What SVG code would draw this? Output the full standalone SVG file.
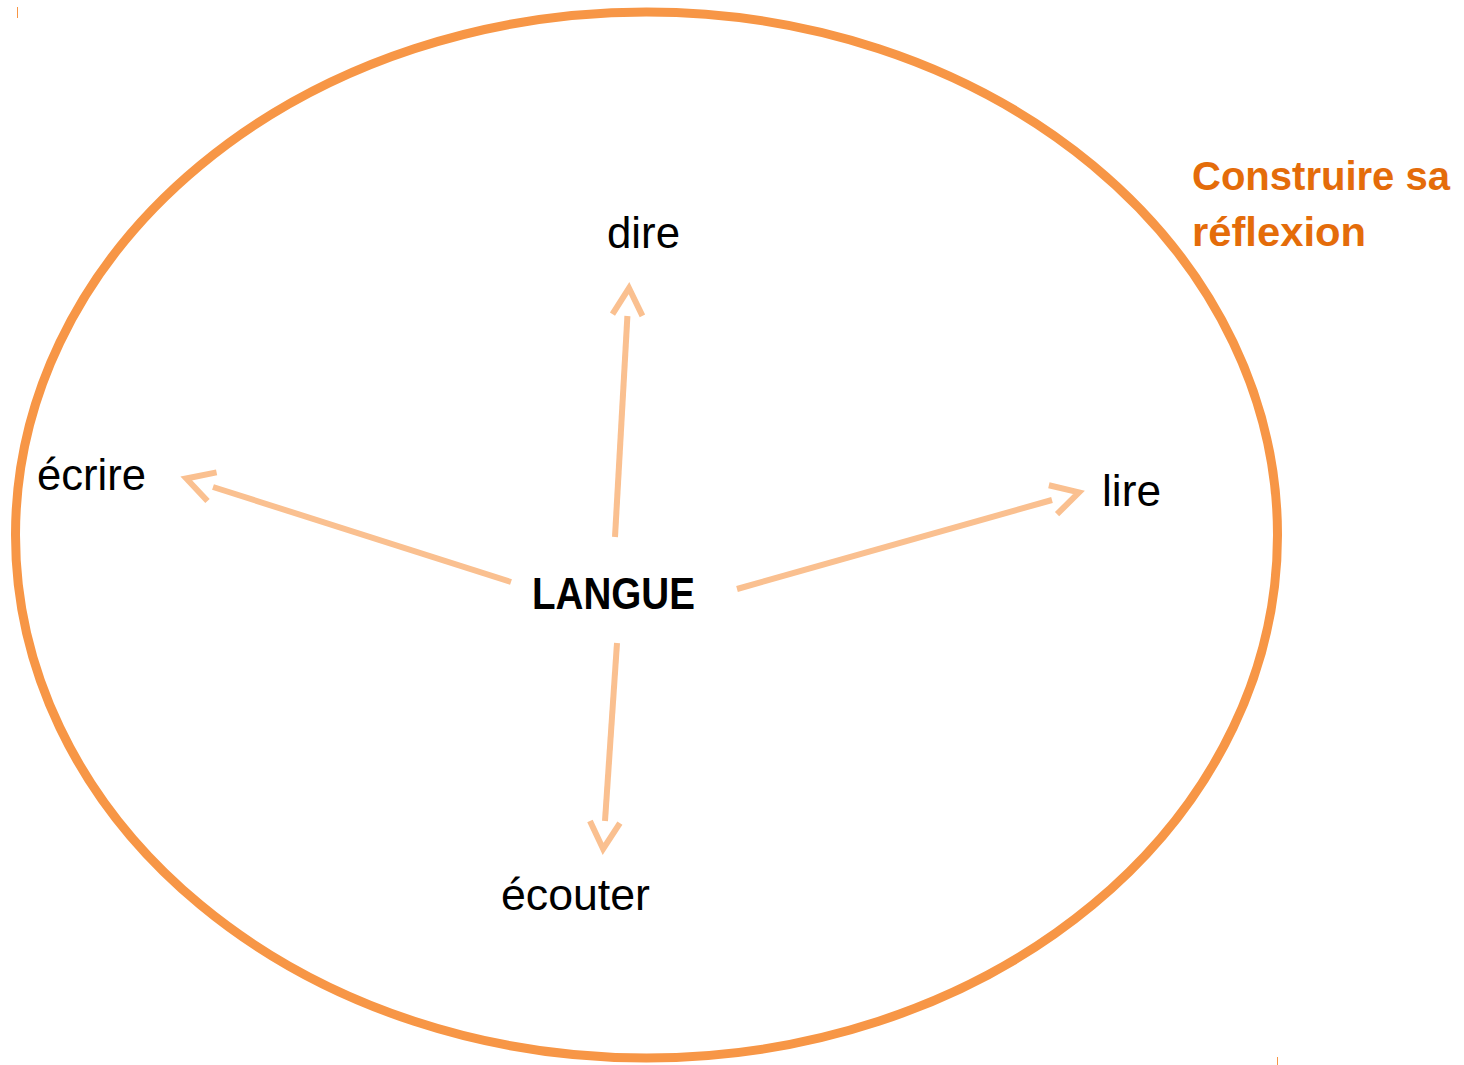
<svg xmlns="http://www.w3.org/2000/svg" width="1464" height="1065" viewBox="0 0 1464 1065">
<style>
.lbl{font-family:"Liberation Sans",Arial,sans-serif;font-size:44px;fill:#000}
.bold{font-weight:bold}
.title{font-family:"Liberation Sans",Arial,sans-serif;font-size:40px;font-weight:bold;fill:#E46C0A}
.conn{stroke:#FAC090;stroke-width:6;fill:none}
.mark{stroke:#F79646;stroke-width:1}
</style>
<defs>
<marker id="open" markerUnits="userSpaceOnUse" markerWidth="40" markerHeight="40" refX="0" refY="0" orient="auto" overflow="visible">
<path d="M1,-15 L28,0 L1,15" fill="none" stroke="#FAC090" stroke-width="6"/>
</marker>
</defs>
<rect width="1464" height="1065" fill="#fff"/>
<line class="mark" x1="17.5" y1="7" x2="17.5" y2="18"/>
<line class="mark" x1="1277.5" y1="1057" x2="1277.5" y2="1065"/>
<g id="frame">
<ellipse cx="646.5" cy="535" rx="631" ry="523" fill="none" stroke="#F79646" stroke-width="9"/>
</g>
<g id="title">
<text class="title" x="1192" y="190" textLength="258" lengthAdjust="spacingAndGlyphs">Construire sa</text>
<text class="title" x="1192" y="246" textLength="174" lengthAdjust="spacingAndGlyphs">réflexion</text>
</g>
<g id="connectors">
<line class="conn" x1="615" y1="537" x2="627.4" y2="316" marker-end="url(#open)"/>
<line class="conn" x1="511" y1="582" x2="213" y2="487" marker-end="url(#open)"/>
<line class="conn" x1="737" y1="589" x2="1052" y2="500" marker-end="url(#open)"/>
<line class="conn" x1="617" y1="643" x2="605" y2="821" marker-end="url(#open)"/>
</g>
<g id="langue"><text class="lbl bold" x="532" y="609" textLength="163" lengthAdjust="spacingAndGlyphs">LANGUE</text></g>
<g id="dire"><text class="lbl" x="607" y="248" textLength="73" lengthAdjust="spacingAndGlyphs">dire</text></g>
<g id="ecrire"><text class="lbl" x="37" y="490" textLength="109" lengthAdjust="spacingAndGlyphs">écrire</text></g>
<g id="lire"><text class="lbl" x="1102" y="506" textLength="59" lengthAdjust="spacingAndGlyphs">lire</text></g>
<g id="ecouter"><text class="lbl" x="501" y="910" textLength="149" lengthAdjust="spacingAndGlyphs">écouter</text></g>
</svg>
